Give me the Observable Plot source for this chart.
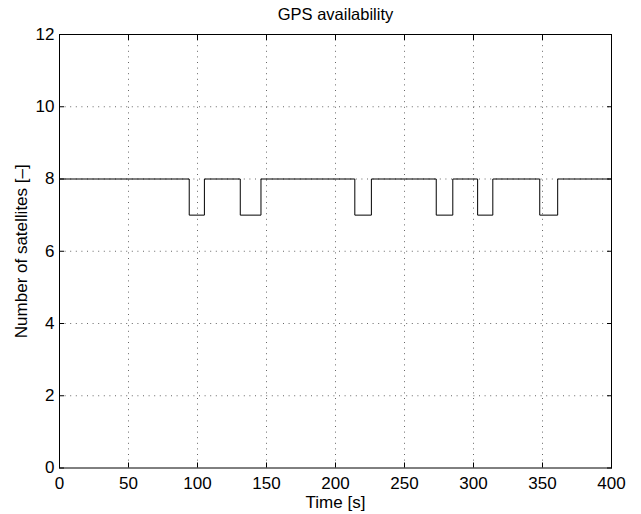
<!DOCTYPE html>
<html><head><meta charset="utf-8">
<script src="https://cdn.jsdelivr.net/npm/d3@7"></script>
<script src="https://cdn.jsdelivr.net/npm/@observablehq/plot@0.6"></script>
<style>
  html,body{margin:0;padding:0;background:#fff;}
  #chart svg{display:block;}
</style>
</head><body><div id="chart"></div>
<script>
const title = "GPS availability";
const xLabel = "Time [s]";
const yLabel = "Number of satellites [–]";
const xTicks = [0, 50, 100, 150, 200, 250, 300, 350, 400];
const yTicks = [0, 2, 4, 6, 8, 10, 12];
// step changes: time [s] and number of satellites from that time on
const time       = [0, 94, 105, 131, 146, 214, 226, 273, 285, 303, 314, 348, 361, 400];
const satellites = [8, 7,  8,   7,   8,   7,   8,   7,   8,   7,   8,   7,   8,   8];

const data = time.map((t, i) => ({t, n: satellites[i]}));
const xGrid = xTicks.slice(1, -1);
const yGrid = yTicks.slice(1, -1);
const font = "'Liberation Sans', Arial, Helvetica, sans-serif";

const chart = Plot.plot({
  width: 641,
  height: 514,
  marginLeft: 59,
  marginRight: 30,
  marginTop: 34,
  marginBottom: 46.5,
  style: {fontFamily: font, fontSize: "17px", color: "#000", background: "#fff"},
  x: {domain: [0, 400]},
  y: {domain: [0, 12]},
  marks: [
    Plot.gridX(xGrid, {stroke: "#000", strokeOpacity: 0.6, strokeDasharray: "1,4.6"}),
    Plot.gridY(yGrid, {stroke: "#000", strokeOpacity: 0.6, strokeDasharray: "1,4.6"}),
    Plot.axisX(xTicks, {anchor: "bottom", tickSize: -5, tickPadding: 14, label: xLabel, labelAnchor: "center", labelArrow: "none", labelOffset: 40, fontSize: 17}),
    Plot.axisX(xTicks, {anchor: "top", tickSize: -5, tickFormat: () => "", label: null}),
    Plot.axisY(yTicks, {anchor: "left", tickSize: -5, tickPadding: 10, label: yLabel, labelAnchor: "center", labelArrow: "none", labelOffset: 45, fontSize: 17}),
    Plot.axisY(yTicks, {anchor: "right", tickSize: -5, tickFormat: () => "", label: null}),
    Plot.line(data, {x: "t", y: "n", curve: "step-after", stroke: "#000", strokeWidth: 1}),
    Plot.frame({stroke: "#000", strokeWidth: 1}),
    Plot.text([title], {frameAnchor: "top", dy: -15, lineAnchor: "bottom", fontSize: 16.5, fill: "#000"})
  ]
});
document.getElementById("chart").append(chart);
</script>
</body></html>
